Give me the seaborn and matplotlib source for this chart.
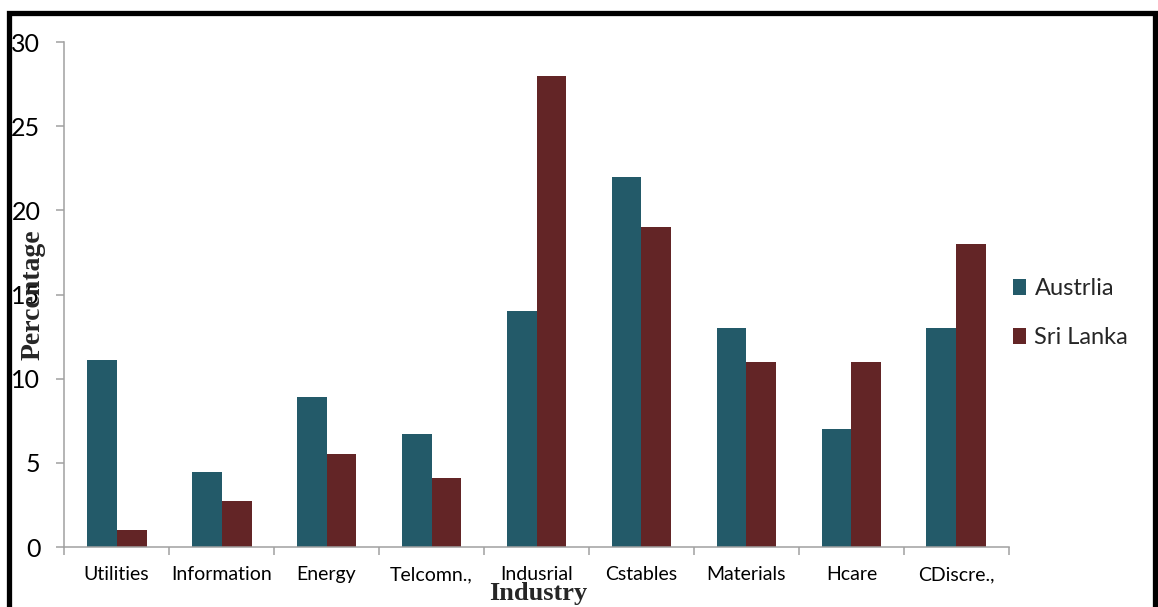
import numpy as np
import pandas as pd
import matplotlib
matplotlib.use("Agg")
import matplotlib.pyplot as plt
from matplotlib.patches import Rectangle, Patch
import seaborn as sns

# Industry shares (percentage) by market
industries = ["Utilities", "Information", "Energy", "Telcomn.,", "Indusrial",
              "Cstables", "Materials", "Hcare", "CDiscre.,"]
australia = [11.1, 4.46, 8.9, 6.7, 14, 22, 13, 7, 13]
sri_lanka = [1.0, 2.75, 5.5, 4.1, 28, 19, 11, 11, 18]
series_names = ["Austrlia", "Sri Lanka"]
y_ticks = [0, 5, 10, 15, 20, 25, 30]

colors = ["#235A69", "#632526"]

df = pd.DataFrame({
    "Industry": industries * 2,
    "Percentage": australia + sri_lanka,
    "Market": [series_names[0]] * len(industries) + [series_names[1]] * len(industries),
})

sns.set_theme(style="white")
plt.rcParams["font.family"] = ["Lato", "DejaVu Sans"]

fig = plt.figure(figsize=(11.58, 6.07), dpi=100)
ax = fig.add_axes([0.0553, 0.0988, 0.8160, 0.8320])

sns.barplot(data=df, x="Industry", y="Percentage", hue="Market",
            order=industries, hue_order=series_names, palette=colors,
            width=0.571, gap=0, saturation=1, ax=ax, legend=False,
            edgecolor="none", linewidth=0)

ax.set_xlim(-0.5, len(industries) - 0.5)
ax.set_ylim(0, 30)
ax.set_yticks(y_ticks)
ax.set_yticklabels([str(v) for v in y_ticks], fontsize=18, color="black")

# Category boundary ticks on the x axis
ax.set_xticks(np.arange(-0.5, len(industries), 1.0), minor=True)
ax.tick_params(axis="x", which="major", length=0, pad=14, labelsize=14,
               labelcolor="black")
ax.tick_params(axis="x", which="minor", length=6, width=1.1, color="#A0A0A0",
               direction="out", bottom=True)
ax.tick_params(axis="y", which="major", length=6, width=1.1, color="#A0A0A0",
               direction="out", left=True, pad=11)

for side in ["top", "right"]:
    ax.spines[side].set_visible(False)
for side in ["left", "bottom"]:
    ax.spines[side].set_color("#A0A0A0")
    ax.spines[side].set_linewidth(1.1)

ax.set_xlabel("Industry", fontsize=19, fontweight="bold",
              family=["Liberation Serif", "DejaVu Serif"])
ax.xaxis.set_label_coords(0.5016, -0.093)
ax.xaxis.label.set_va("center")
ax.set_ylabel("Percentage", fontsize=20, fontweight="bold",
              family=["Liberation Serif", "DejaVu Serif"])
ax.yaxis.set_label_coords(-0.0328, 0.499)
ax.yaxis.label.set_va("center")

handles = [Patch(facecolor=c, edgecolor="none") for c in colors]
fig.legend(handles, series_names, loc="center left",
           bbox_to_anchor=(0.875, 0.484), frameon=False, fontsize=17,
           handlelength=0.55, handleheight=0.7, handletextpad=0.35,
           labelspacing=1.2, borderpad=0, borderaxespad=0)

# Heavy frame around the whole chart
fig.patches.append(Rectangle((0.0078, -0.05), 0.9896, 0.9794 + 0.05,
                             transform=fig.transFigure, fill=False,
                             edgecolor="black", linewidth=3.8, clip_on=False))

fig.savefig("out.png", dpi=100)
